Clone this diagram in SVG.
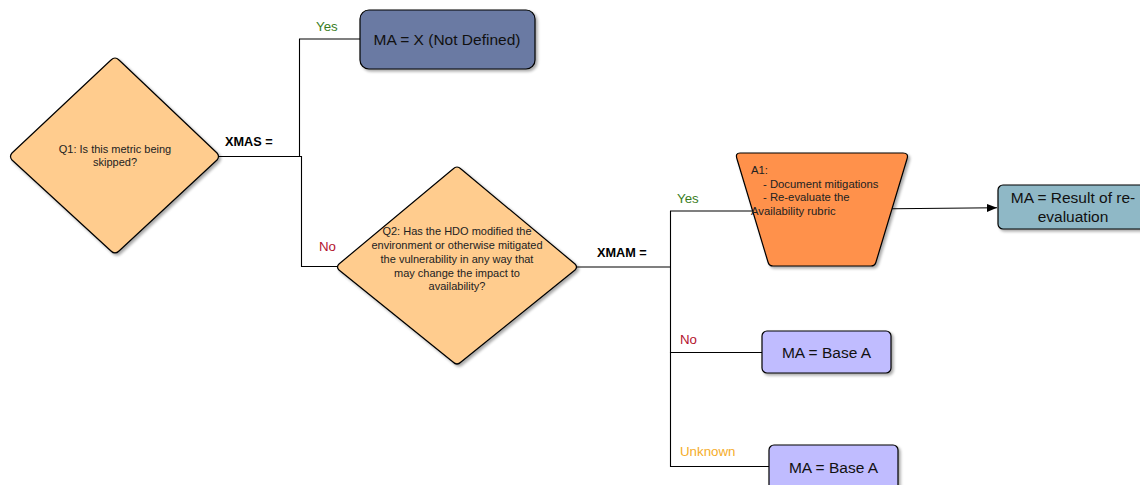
<svg xmlns="http://www.w3.org/2000/svg" width="1140" height="485" viewBox="0 0 1140 485">
<defs>
<filter id="sh" x="-10%" y="-10%" width="130%" height="130%">
<feGaussianBlur in="SourceAlpha" stdDeviation="1.5"/>
<feOffset dx="1.5" dy="2" result="b"/>
<feComponentTransfer><feFuncA type="linear" slope="0.35"/></feComponentTransfer>
<feMerge><feMergeNode/><feMergeNode in="SourceGraphic"/></feMerge>
</filter>
<marker id="arr" viewBox="0 0 10 10" refX="10" refY="5" markerWidth="10" markerHeight="10" markerUnits="userSpaceOnUse" orient="auto">
<path d="M0,1 L10,5 L0,9 Z" fill="#000"/>
</marker>
<style>
text{font-family:"Liberation Sans",Arial,sans-serif;}
.shape{stroke:#000;stroke-width:1.2;stroke-linejoin:round;filter:url(#sh);}
.dia{fill:#ffcc8e;}
.t10{font-size:11px;fill:#222;text-anchor:middle;}
.a1{font-size:11.3px;fill:#222;}
.t15{font-size:15.5px;fill:#111;text-anchor:middle;}
.lbl{font-size:13.3px;}
.bold{font-size:12.7px;font-weight:bold;fill:#000;}
.edge{fill:none;stroke:#000;stroke-width:1.1;}
</style>
</defs>
<rect width="1140" height="485" fill="#fff"/>

<g id="connectors">
<path class="edge" d="M219,156.5 H299.5 V39 H360"/>
<path class="edge" d="M219,156.5 H301.5 V266.5 H337"/>
<path class="edge" d="M577,267 H670.5 V211 H752"/>
<path class="edge" d="M670.5,267 V352.5 H762"/>
<path class="edge" d="M670.5,352 V466.5 H769"/>
<path class="edge" d="M892,208.8 L997,207.8" marker-end="url(#arr)"/>
<text class="bold" x="225" y="146">XMAS =</text>
<text class="lbl" x="316" y="31" fill="#3a7d1e">Yes</text>
<text class="lbl" x="319" y="251" fill="#b3122e">No</text>
<text class="bold" x="597" y="257">XMAM =</text>
<text class="lbl" x="677" y="203" fill="#3a7d1e">Yes</text>
<text class="lbl" x="680" y="344" fill="#b3122e">No</text>
<text class="lbl" x="680" y="456" fill="#f5ad2a">Unknown</text>
</g>

<g id="q1">
<path class="shape dia" d="M115,58 Q117,58 119,60 L217,153 Q220,156.5 217,160 L119,251 Q115,255 111,251 L12,160 Q9,156.5 12,153 L111,60 Q113,58 115,58 Z"/>
<text class="t10" x="115" y="153">Q1: Is this metric being</text>
<text class="t10" x="115" y="165.5">skipped?</text>
</g>

<g id="ma-x">
<rect class="shape" x="360" y="10" width="175" height="59" rx="9" fill="#6a7aa3"/>
<text class="t15" x="447" y="45">MA = X (Not Defined)</text>
</g>

<g id="q2">
<path class="shape dia" d="M457,167 Q459,167 461,169 L575,264 Q578,267 575,270 L461,362 Q457,366 453,362 L339,270 Q336,267 339,264 L453,169 Q455,167 457,167 Z"/>
<text class="t10" x="457" y="235">Q2: Has the HDO modified the</text>
<text class="t10" x="457" y="249">environment or otherwise mitigated</text>
<text class="t10" x="457" y="263">the vulnerability in any way that</text>
<text class="t10" x="457" y="276.5">may change the impact to</text>
<text class="t10" x="457" y="290">availability?</text>
</g>

<g id="a1">
<path class="shape" d="M740,153 H903 Q909,153 907,159 L876,262 Q875,266 871,266 H773 Q769,266 768,262 L737,159 Q735,153 740,153 Z" fill="#ff914b"/>
<text class="a1" x="751" y="174">A1:</text>
<text class="a1" x="763" y="187.5">- Document mitigations</text>
<text class="a1" x="763" y="201">- Re-evaluate the</text>
<text class="a1" x="751" y="215">Availability rubric</text>
</g>

<g id="ma-result">
<rect class="shape" x="998" y="185" width="150" height="44" rx="5" fill="#8fb8c6"/>
<text class="t15" x="1073" y="203">MA = Result of re-</text>
<text class="t15" x="1073" y="222">evaluation</text>
</g>

<g id="ma-base-no">
<rect class="shape" x="762" y="331" width="129" height="42" rx="5" fill="#c0bcff"/>
<text class="t15" x="826.5" y="357.5">MA = Base A</text>
</g>

<g id="ma-base-unknown">
<rect class="shape" x="769" y="445" width="129" height="45" rx="5" fill="#c0bcff"/>
<text class="t15" x="833.5" y="472.5">MA = Base A</text>
</g>
</svg>
